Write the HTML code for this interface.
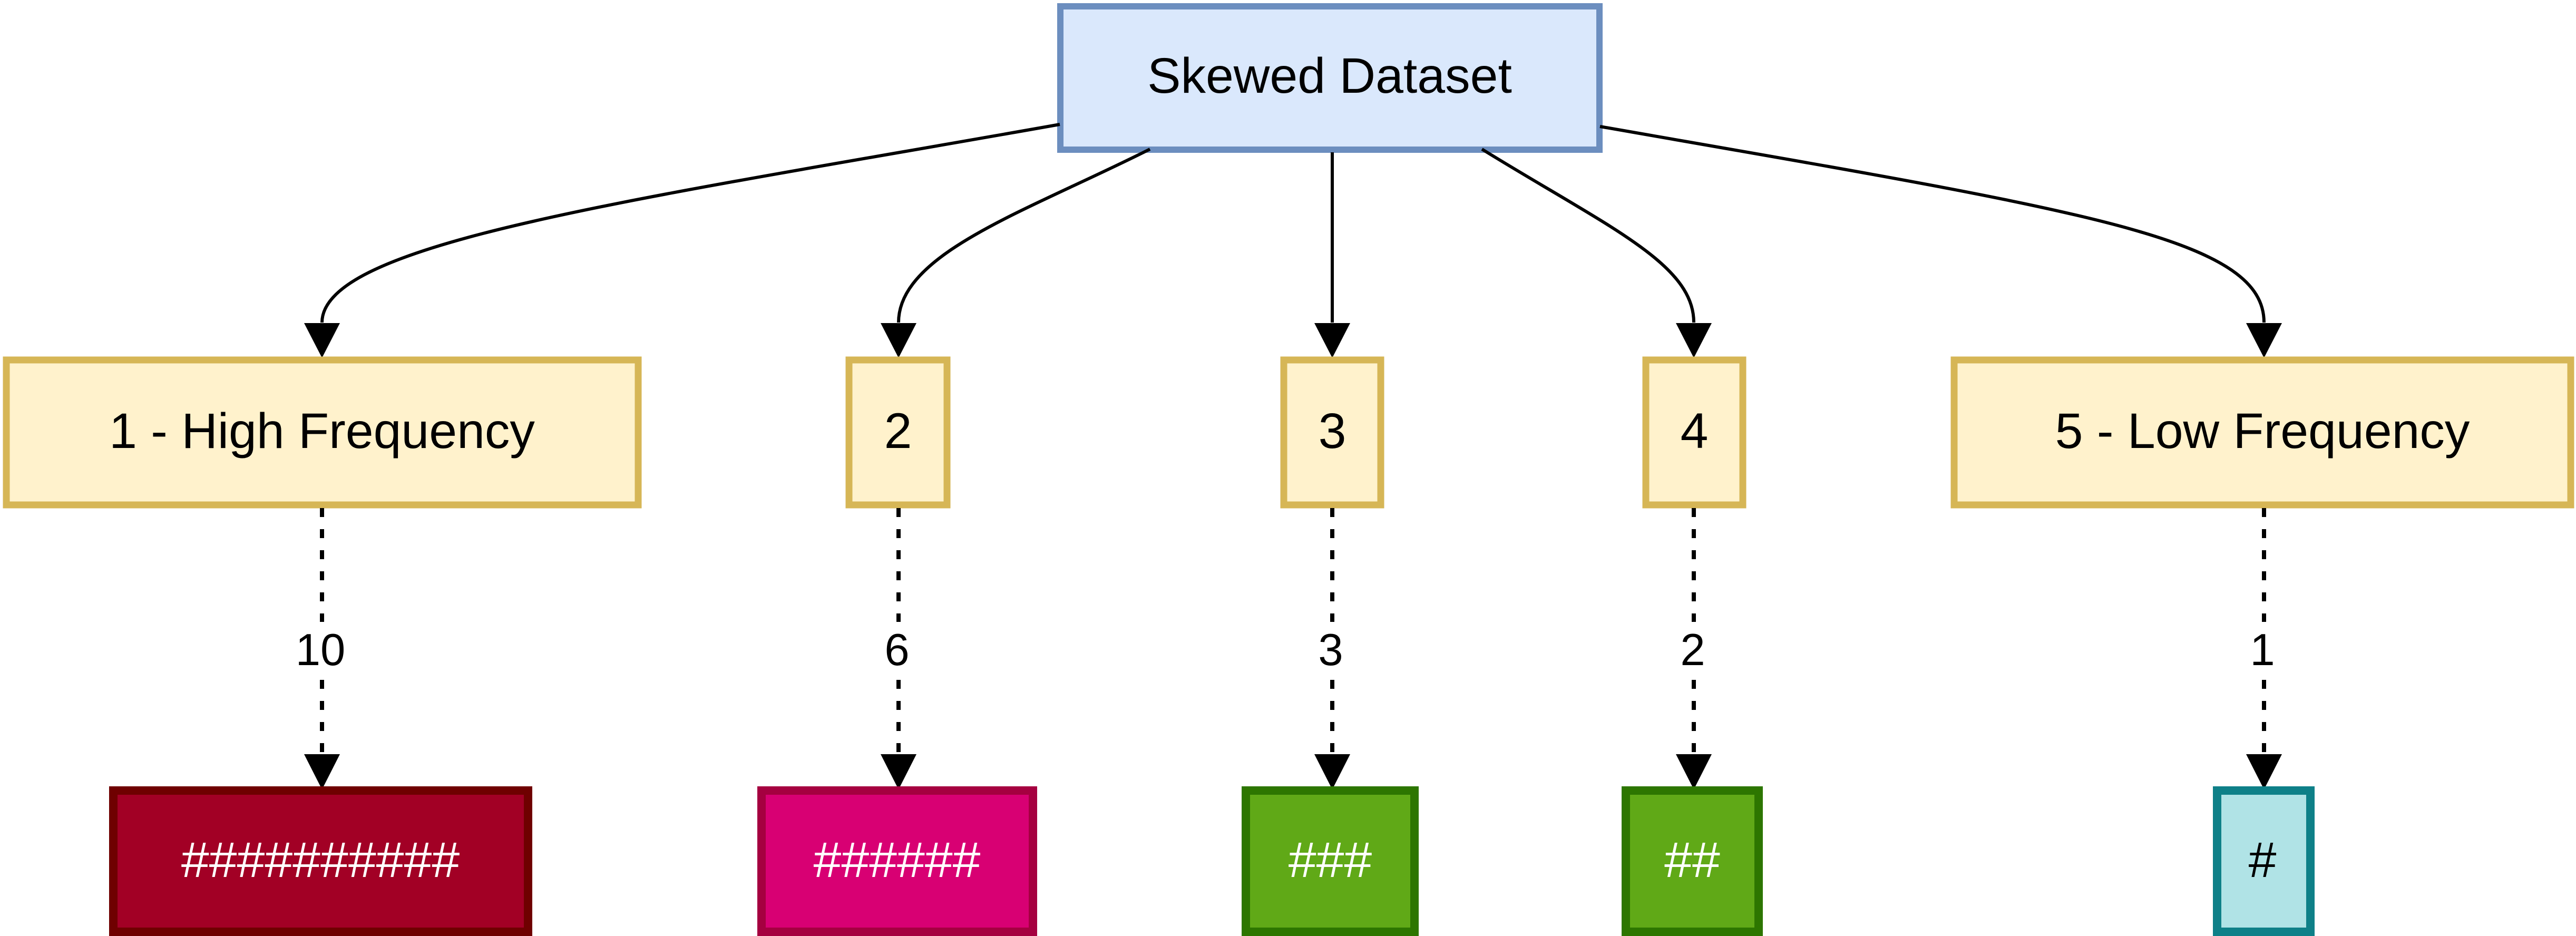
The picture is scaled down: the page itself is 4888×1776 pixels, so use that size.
<!DOCTYPE html>
<html><head><meta charset="utf-8"><style>
html,body{margin:0;padding:0;background:#fff;}
svg{display:block;}
text{font-family:"Liberation Sans",sans-serif;}
</style></head><body>
<svg width="4888" height="1776" viewBox="0 0 4888 1776" xmlns="http://www.w3.org/2000/svg">
<!-- top node -->
<g>
<rect x="2012" y="12" width="1023" height="272" fill="#dae8fc" stroke="#6c8ebf" stroke-width="12"/>
<text x="2523" y="176" font-size="95" text-anchor="middle" fill="#000">Skewed Dataset</text>
</g>
<!-- edges from top -->
<g fill="none" stroke="#000" stroke-width="6">
<path d="M2011,236 C1200,380 611,460 611,612"/>
<path d="M2182,283 C1950,400 1705,480 1705,612"/>
<path d="M2528,289 L2528,612"/>
<path d="M2812,283 C3050,430 3214,500 3214,612"/>
<path d="M3036,240 C3950,400 4296,450 4296,612"/>
</g>
<g fill="#000">
<path d="M577,613 L645,613 L611,679 Z"/>
<path d="M1671,613 L1739,613 L1705,679 Z"/>
<path d="M2494,613 L2562,613 L2528,679 Z"/>
<path d="M3180,613 L3248,613 L3214,679 Z"/>
<path d="M4262,613 L4330,613 L4296,679 Z"/>
</g>
<!-- tier nodes -->
<g fill="#fff2cc" stroke="#d6b656" stroke-width="13">
<rect x="12" y="683" width="1199" height="275"/>
<rect x="1611" y="683" width="186" height="275"/>
<rect x="2436" y="683" width="184" height="275"/>
<rect x="3123" y="683" width="184" height="275"/>
<rect x="3708" y="683" width="1170" height="275"/>
</g>
<g font-size="95" text-anchor="middle" fill="#000">
<text x="611" y="850">1 - High Frequency</text>
<text x="1704" y="850">2</text>
<text x="2528" y="850">3</text>
<text x="3215" y="850">4</text>
<text x="4293" y="850">5 - Low Frequency</text>
</g>
<!-- dashed edges -->
<g fill="none" stroke="#000" stroke-width="8" stroke-dasharray="17 23">
<path d="M611,964 L611,1180"/>
<path d="M611,1290 L611,1432"/>
<path d="M1705,964 L1705,1180"/>
<path d="M1705,1290 L1705,1432"/>
<path d="M2528,964 L2528,1180"/>
<path d="M2528,1290 L2528,1432"/>
<path d="M3214,964 L3214,1180"/>
<path d="M3214,1290 L3214,1432"/>
<path d="M4296,964 L4296,1180"/>
<path d="M4296,1290 L4296,1432"/>
</g>
<g fill="#000">
<path d="M577,1431 L645,1431 L611,1498 Z"/>
<path d="M1671,1431 L1739,1431 L1705,1498 Z"/>
<path d="M2494,1431 L2562,1431 L2528,1498 Z"/>
<path d="M3180,1431 L3248,1431 L3214,1498 Z"/>
<path d="M4262,1431 L4330,1431 L4296,1498 Z"/>
</g>
<g font-size="85" text-anchor="middle" fill="#000">
<text x="608" y="1262">10</text>
<text x="1702" y="1262">6</text>
<text x="2525" y="1262">3</text>
<text x="3212" y="1262">2</text>
<text x="4293" y="1262">1</text>
</g>
<!-- bottom nodes -->
<g stroke-width="16">
<rect x="215" y="1500" width="787" height="268" fill="#a20025" stroke="#6f0000"/>
<rect x="1445" y="1500" width="515" height="268" fill="#d80073" stroke="#a50040"/>
<rect x="2364" y="1500" width="320" height="268" fill="#60a917" stroke="#2d7600"/>
<rect x="3085" y="1500" width="252" height="268" fill="#60a917" stroke="#2d7600"/>
<rect x="4207" y="1500" width="177" height="268" fill="#b0e3e6" stroke="#0e8088"/>
</g>
<g font-size="95" text-anchor="middle">
<text x="608" y="1664" fill="#fff">##########</text>
<text x="1702" y="1664" fill="#fff">######</text>
<text x="2524" y="1664" fill="#fff">###</text>
<text x="3211" y="1664" fill="#fff">##</text>
<text x="4293" y="1664" fill="#000">#</text>
</g>
</svg>
</body></html>
